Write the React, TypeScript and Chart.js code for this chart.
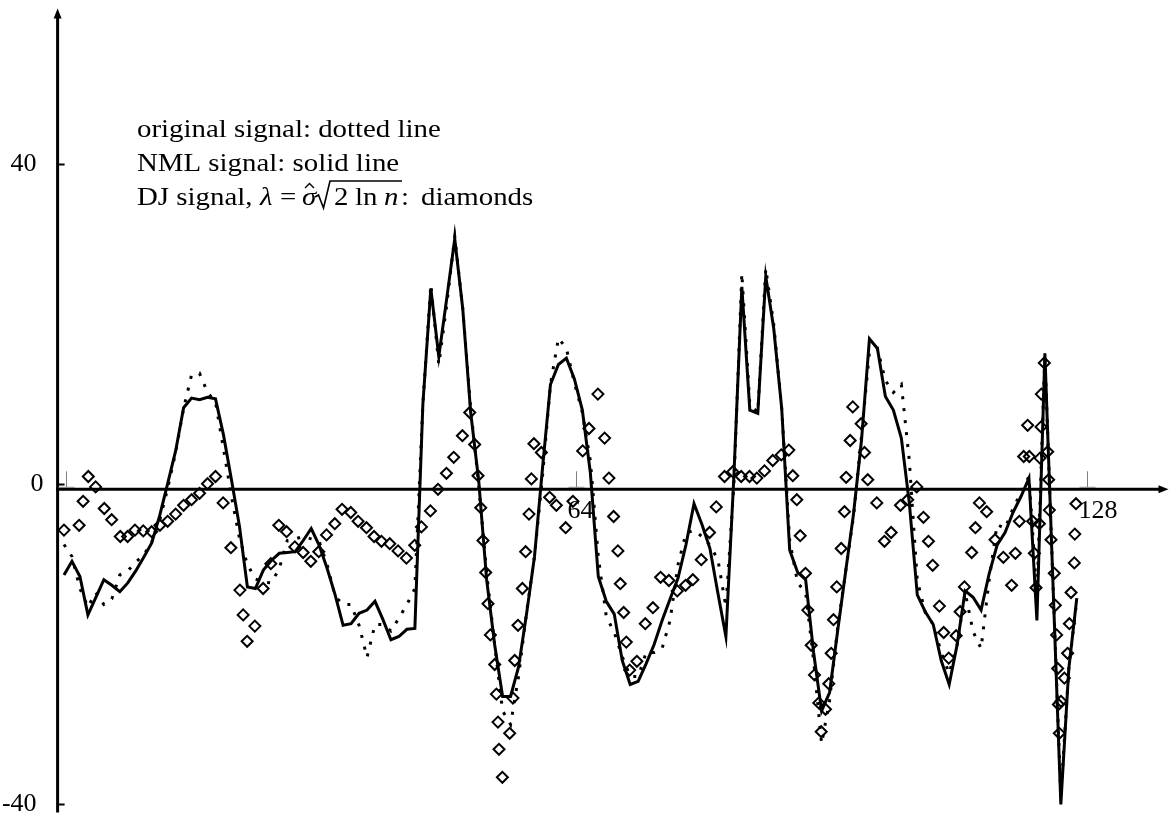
import React, { useEffect, useRef } from 'react';
import { Chart, registerables } from 'chart.js';

Chart.register(...registerables);

// ---------------- data (sample index 0..127) ----------------
const NML_SIGNAL: number[] = [
  -11.3, -9.6, -11.5, -16.3, -14.1, -11.9, -12.6, -13.4, -12.3, -10.8,
  -9.1, -7.3, -3.9, 0.1, 4.2, 9.6, 10.8, 10.6, 10.9, 10.7,
  6.2, 0.6, -5.2, -12.8, -13.0, -10.7, -9.5, -8.6, -8.5, -8.4,
  -7.0, -5.5, -7.6, -10.5, -13.8, -17.6, -17.4, -16.1, -15.7, -14.6,
  -16.9, -19.4, -19.0, -18.1, -18.0, 10.0, 24.5, 16.0, 23.3, 30.7,
  22.0, 9.0, 0.5, -11.9, -20.0, -26.5, -26.5, -22.8, -16.2, -9.0,
  2.0, 12.5, 15.0, 15.8, 13.2, 9.3, 1.5, -11.5, -14.6, -16.2,
  -22.0, -25.0, -24.6, -22.4, -20.0, -17.0, -14.3, -11.7, -7.5, -2.4,
  -5.0, -8.0, -13.6, -19.0, 1.0, 24.7, 9.3, 8.9, 26.0, 19.5,
  9.5, -8.2, -11.0, -11.9, -21.0, -28.3, -26.0, -18.4, -11.0, -3.7,
  5.5, 18.2, 17.0, 11.0, 9.3, 5.8, -2.3, -13.8, -15.9, -17.5,
  -22.0, -25.0, -20.0, -13.3, -14.1, -15.7, -11.2, -7.6, -6.0, -3.5,
  -1.5, 0.8, -17.0, 16.4, -12.0, -40.0, -23.0, -14.2,
];

const ORIGINAL_SIGNAL: number[] = [
  -7.5, -9.0, -13.0, -15.3, -13.5, -15.0, -14.3, -11.3, -10.8, -9.7,
  -8.8, -7.2, -4.5, -0.5, 4.0, 9.5, 13.7, 13.9, 11.5, 10.3,
  4.5, -1.5, -6.7, -10.0, -11.8, -12.2, -12.3, -10.5, -7.0, -6.8,
  -6.5, -6.8, -7.1, -10.0, -14.0, -15.0, -15.0, -17.6, -21.6, -17.5,
  -17.5, -18.3, -16.7, -15.0, -13.0, 10.0, 25.0, 15.0, 22.5, 31.0,
  22.0, 9.5, 0.0, -11.0, -20.0, -28.3, -30.0, -24.0, -16.0, -9.0,
  1.0, 12.5, 18.3, 17.0, 12.7, 9.0, 3.0, -9.0, -16.5, -18.5,
  -21.5, -24.0, -24.0, -21.0, -21.0, -20.5, -17.0, -10.0, -6.1, -5.7,
  -6.5, -7.6, -9.4, -15.3, 0.0, 26.4, 10.0, 9.0, 27.0, 20.0,
  9.5, -7.0, -12.3, -13.5, -22.0, -32.4, -27.0, -18.0, -11.0, -4.0,
  6.0, 16.6, 17.0, 13.0, 11.5, 12.5, 3.0, -12.0, -16.0, -17.5,
  -21.0, -23.6, -20.0, -13.5, -18.4, -20.5, -12.0, -5.0, -5.5, -3.0,
  -1.0, 1.0, -14.0, 16.3, -12.0, -39.0, -23.0, -14.5,
];

// DJ estimate, plotted as diamonds at the (adaptive) sample positions
const DJ_X: number[] = [
  0.0, 1.9, 2.4, 3.05, 3.97, 5.05, 5.98, 7.06, 7.98, 8.9,
  9.94, 10.99, 12.03, 13.0, 14.0, 15.0, 16.0, 17.0, 18.0, 19.0,
  19.96, 20.93, 22.06, 22.47, 22.97, 23.93, 24.97, 25.94, 26.94, 27.91,
  28.95, 29.99, 30.95, 31.95, 32.92, 33.96, 34.87, 35.96, 36.88, 37.93,
  38.88, 39.81, 40.85, 41.89, 42.94, 43.98, 44.82, 45.95, 46.9, 47.96,
  48.87, 49.96, 50.88, 51.5, 51.92, 52.26, 52.54, 52.88, 53.17, 53.47,
  54.01, 54.22, 54.42, 54.55, 54.97, 55.89, 56.3, 56.52, 56.93, 57.48,
  57.89, 58.31, 58.61, 58.93, 59.86, 60.9, 61.74, 62.91, 63.82, 65.04,
  65.83, 66.95, 67.79, 68.33, 68.92, 69.46, 69.76, 70.18, 70.51, 70.93,
  71.84, 72.89, 73.85, 74.81, 75.85, 76.9, 77.94, 78.86, 79.91, 80.95,
  81.79, 82.83, 83.87, 84.92, 85.96, 86.88, 87.84, 88.88, 89.94, 90.89,
  91.39, 91.89, 92.32, 92.98, 93.27, 93.7, 94.11, 94.65, 94.95, 95.49,
  95.9, 96.2, 96.49, 96.9, 97.46, 97.87, 98.08, 98.58, 98.91, 99.96,
  100.38, 100.79, 101.92, 102.88, 103.72, 104.89, 105.8, 106.93, 107.77, 108.4,
  108.93, 109.77, 110.31, 110.94, 111.87, 112.37, 112.91, 113.82, 114.29, 114.79,
  115.7, 116.75, 117.79, 118.83, 119.3, 119.8, 120.34, 120.84, 121.05, 121.47,
  121.68, 121.89, 122.31, 122.39, 122.52, 122.55, 122.93, 123.35, 123.47, 123.56,
  123.77, 124.18, 124.31, 124.47, 124.6, 124.7, 124.81, 125.02, 125.44, 125.85,
  126.07, 126.28, 126.69, 126.75, 126.9,
];
const DJ_Y: number[] = [
  -5.7, -5.1, -2.1, 1.0, -0.3, -3.0, -4.4, -6.5, -6.5, -5.7,
  -5.8, -5.9, -5.1, -4.6, -3.7, -2.6, -1.9, -1.1, 0.1, 1.0,
  -2.3, -7.9, -13.2, -16.3, -19.6, -17.7, -13.0, -9.9, -5.1, -5.9,
  -7.8, -8.5, -9.6, -8.4, -6.3, -4.9, -3.1, -3.5, -4.6, -5.4,
  -6.5, -7.1, -7.4, -8.3, -9.2, -7.6, -5.3, -3.3, -0.6, 1.4,
  3.4, 6.1, 9.0, 5.0, 1.1, -2.9, -7.0, -11.0, -14.9, -18.8,
  -22.5, -26.2, -29.7, -33.1, -36.6, -31.1, -26.7, -22.0, -17.6, -13.0,
  -8.4, -3.7, 0.7, 5.1, 4.0, -1.6, -2.6, -5.4, -2.1, 4.2,
  7.0, 11.3, 5.8, 0.8, -4.0, -8.3, -12.4, -16.0, -19.7, -23.2,
  -22.1, -17.4, -15.4, -11.6, -12.0, -13.3, -12.6, -11.9, -9.4, -6.0,
  -2.8, 1.0, 1.6, 1.0, 1.0, 0.8, 1.7, 3.0, 3.7, 4.3,
  1.1, -1.9, -6.4, -11.1, -15.7, -20.1, -23.8, -27.3, -30.9, -28.1,
  -24.9, -21.1, -16.9, -12.8, -8.0, -3.4, 0.9, 5.5, 9.7, 7.6,
  4.0, 0.6, -2.3, -7.1, -6.0, -2.6, -1.9, -0.3, -4.1, -7.1,
  -10.1, -15.2, -18.5, -21.7, -18.9, -15.9, -12.8, -8.5, -5.4, -2.3,
  -3.4, -6.9, -9.1, -12.6, -8.6, -4.6, 3.5, 7.4, 3.5, -4.6,
  -8.6, -12.9, -4.9, 3.3, 7.2, 11.3, 15.2, 4.1, 0.6, -3.2,
  -6.9, -11.1, -15.1, -18.8, -23.0, -27.5, -31.1, -27.1, -24.2, -21.1,
  -17.4, -13.5, -9.8, -6.2, -2.4,
];

const X_TICKS: number[] = [0, 64, 128];
const X_TICK_LABELS: string[] = ['', '64', '128'];
const Y_TICKS: number[] = [40, 0, -40];
const Y_TICK_LABELS: string[] = ['40', '0', '-40'];

const LEGEND_LINE_1 = 'original signal: dotted line';
const LEGEND_LINE_2 = 'NML signal: solid line';

// ---------------- layout / style constants ----------------
const X_MIN = -0.8;
const X_MAX = 138.5;
const Y_MIN = -41;
const Y_MAX = 59.5;
const X_AXIS_AT = -0.6; // where the horizontal axis line is drawn (value units)
const ROMAN = '26px "Liberation Serif", "Times New Roman", serif';
const ITALIC = 'italic 26px "Liberation Serif", "Times New Roman", serif';
const TEXT_STRETCH = 1.11;

const axesPlugin = {
  id: 'mapleAxes',
  beforeDatasetsDraw(chart: any) {
    const { ctx, chartArea, scales } = chart;
    const xs = scales.x;
    const ys = scales.y;
    const ax = chartArea.left;
    const ay = ys.getPixelForValue(X_AXIS_AT);
    ctx.save();
    ctx.strokeStyle = '#000';
    ctx.fillStyle = '#000';
    ctx.lineWidth = 3;
    ctx.lineCap = 'butt';
    // vertical axis with arrow
    ctx.beginPath();
    ctx.moveTo(ax, chartArea.bottom);
    ctx.lineTo(ax, chartArea.top + 8);
    ctx.stroke();
    ctx.beginPath();
    ctx.moveTo(ax, chartArea.top);
    ctx.lineTo(ax - 4, chartArea.top + 10);
    ctx.lineTo(ax + 4, chartArea.top + 10);
    ctx.closePath();
    ctx.fill();
    // horizontal axis with arrow
    ctx.beginPath();
    ctx.moveTo(ax - 1.5, ay);
    ctx.lineTo(chartArea.right - 8, ay);
    ctx.stroke();
    ctx.beginPath();
    ctx.moveTo(chartArea.right, ay);
    ctx.lineTo(chartArea.right - 10, ay - 4);
    ctx.lineTo(chartArea.right - 10, ay + 4);
    ctx.closePath();
    ctx.fill();
    // y ticks + labels
    ctx.lineWidth = 2;
    ctx.font = ROMAN;
    ctx.textAlign = 'right';
    ctx.textBaseline = 'middle';
    Y_TICKS.forEach((v, k) => {
      const py = ys.getPixelForValue(v);
      ctx.beginPath();
      ctx.moveTo(ax, py);
      ctx.lineTo(ax + 7, py);
      ctx.stroke();
      const lx = v === 0 ? ax - 14 : ax - 21;
      ctx.fillText(Y_TICK_LABELS[k], lx, py);
    });
    // x ticks + labels
    ctx.strokeStyle = '#808080';
    ctx.lineWidth = 1;
    ctx.textAlign = 'left';
    X_TICKS.forEach((v, k) => {
      const px = Math.round(xs.getPixelForValue(v)) + 2.5;
      ctx.beginPath();
      ctx.moveTo(px, ay - 18);
      ctx.lineTo(px, ay - 2);
      ctx.moveTo(px - 8, ay - 2);
      ctx.lineTo(px + 8, ay - 2);
      ctx.stroke();
      if (X_TICK_LABELS[k]) ctx.fillText(X_TICK_LABELS[k], px - 9, ay + 22);
    });
    ctx.restore();
  },
};

const legendPlugin = {
  id: 'legendText',
  afterDraw(chart: any) {
    const ctx = chart.ctx;
    ctx.save();
    ctx.fillStyle = '#000';
    ctx.strokeStyle = '#000';
    ctx.textBaseline = 'alphabetic';
    ctx.textAlign = 'left';
    const put = (text: string, x: number, y: number, font: string) => {
      ctx.font = font;
      ctx.save();
      ctx.translate(x, y);
      ctx.scale(TEXT_STRETCH, 1);
      ctx.fillText(text, 0, 0);
      ctx.restore();
    };
    put(LEGEND_LINE_1, 137, 137, ROMAN);
    put(LEGEND_LINE_2, 137, 171, ROMAN);
    const y3 = 205;
    put('DJ signal,', 137, y3, ROMAN);
    put('\u03bb', 260, y3, ITALIC);
    put('=', 280, y3, ROMAN);
    put('\u03c3', 302, y3, ITALIC);
    // hat over sigma
    ctx.lineWidth = 1.4;
    ctx.beginPath();
    ctx.moveTo(305, y3 - 17);
    ctx.lineTo(309.5, y3 - 21.5);
    ctx.lineTo(314, y3 - 17);
    ctx.stroke();
    // radical sign + vinculum
    ctx.lineWidth = 1.6;
    ctx.beginPath();
    ctx.moveTo(315, y3 - 8);
    ctx.lineTo(318.5, y3 - 10);
    ctx.lineTo(323.5, y3 + 3);
    ctx.lineTo(330, y3 - 24);
    ctx.lineTo(402, y3 - 24);
    ctx.stroke();
    put('2', 334, y3, ROMAN);
    put('ln', 355, y3, ROMAN);
    put('n', 384, y3, ITALIC);
    put(':', 401, y3, ROMAN);
    put('diamonds', 421, y3, ROMAN);
    ctx.restore();
  },
};

export default function App() {
  const canvasRef = useRef<HTMLCanvasElement | null>(null);

  useEffect(() => {
    const canvas = canvasRef.current;
    if (!canvas) return;
    const idx = NML_SIGNAL.map((_, i) => i);
    const chart = new Chart(canvas, {
      type: 'scatter',
      data: {
        datasets: [
          {
            label: 'DJ signal',
            data: DJ_X.map((x, k) => ({ x, y: DJ_Y[k] })),
            showLine: false,
            pointStyle: 'rectRot',
            pointRadius: 5.5,
            pointBorderWidth: 2,
            pointBorderColor: '#000',
            pointBackgroundColor: 'rgba(0,0,0,0)',
            clip: false,
          } as any,
          {
            label: 'NML signal',
            data: idx.map((i) => ({ x: i, y: NML_SIGNAL[i] })),
            showLine: true,
            borderColor: '#000',
            borderWidth: 3,
            pointRadius: 0,
            tension: 0,
            clip: false,
          } as any,
          {
            label: 'original signal',
            data: idx.map((i) => ({ x: i, y: ORIGINAL_SIGNAL[i] })),
            showLine: true,
            borderColor: '#000',
            borderWidth: 3,
            borderDash: [3, 9],
            pointRadius: 0,
            tension: 0,
            clip: false,
          } as any,
        ],
      },
      options: {
        animation: false,
        responsive: false,
        devicePixelRatio: 1,
        events: [],
        layout: { padding: { left: 57.6, right: 6.8, top: 8.5, bottom: 12.5 } },
        plugins: { legend: { display: false }, tooltip: { enabled: false } },
        scales: {
          x: { type: 'linear', min: X_MIN, max: X_MAX, display: false },
          y: { type: 'linear', min: Y_MIN, max: Y_MAX, display: false },
        },
      },
      plugins: [axesPlugin, legendPlugin],
    });
    return () => chart.destroy();
  }, []);

  return (
    <div style={{ position: 'fixed', left: 0, top: 0, width: 1176, height: 825, background: '#fff', overflow: 'hidden' }}>
      <canvas ref={canvasRef} width={1176} height={825} style={{ display: 'block', width: 1176, height: 825 }} />
    </div>
  );
}
